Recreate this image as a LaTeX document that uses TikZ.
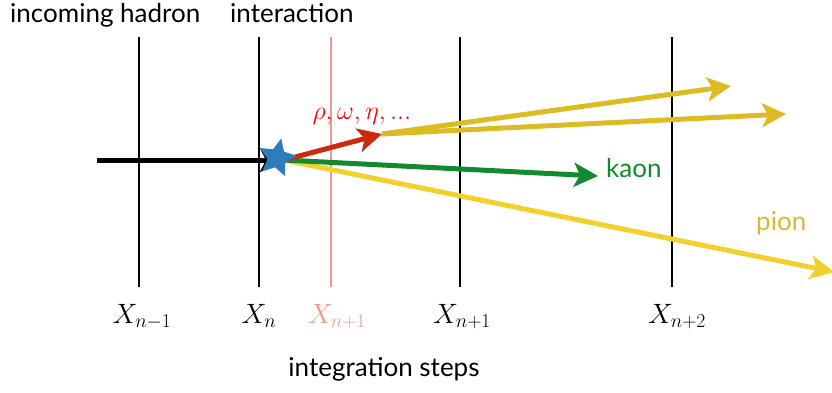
\documentclass[tikz,border=0pt]{standalone}
\usepackage{fix-cm}
\usepackage{fontspec}
\setsansfont{Lato}
\usetikzlibrary{shapes.geometric,arrows.meta}
\definecolor{ydark}{HTML}{DDBB22}
\definecolor{ylight}{HTML}{F2D12C}
\definecolor{gr}{HTML}{138A2E}
\definecolor{rd}{HTML}{CC2A10}
\definecolor{salmon}{HTML}{EC9A8F}
\definecolor{starblue}{HTML}{2F7DB8}
\definecolor{piontxt}{HTML}{D8B733}
\begin{document}
\begin{tikzpicture}[x=1pt,y=-1pt,
  wall/.style={line width=2.6pt,black},
  lbl/.style={font=\sffamily\fontsize{26}{27}\selectfont},
  xl/.style={font=\fontsize{28}{30}\selectfont,anchor=base},
  ln/.style={line width=5pt},
  tip/.style={-{Stealth[length=24pt,width=24pt,inset=6pt]}}]
\useasboundingbox (0,0) rectangle (832,392);
% walls
\foreach \x/\n in {139/a,259/b,460/d,672/e}{
  \coordinate (\n t) at (\x,37); \coordinate (\n b) at (\x,287);
  \draw[wall] (\n t) -- (\n b);}
\coordinate (ct) at (331,37); \coordinate (cb) at (331,287);
\draw[line width=2pt,salmon] (ct) -- (cb);
% labels
\node[lbl,anchor=base west,inner sep=0pt] (inc) at (10,22) {incoming hadron};
\node[lbl,anchor=base west,inner sep=0pt] (int) at (230,22) {interaction};
\node[lbl,anchor=base,inner sep=0pt] (steps) at (384,376) {integration steps};
\node[xl] (la) at (142,323) {$X_{n-1}$};
\node[xl] (lb) at (259,323) {$X_{n}$};
\node[xl,text=salmon] (lc) at (337,323) {$X_{n+1}$};
\node[xl] (ld) at (462,323) {$X_{n+1}$};
\node[xl] (le) at (677,323) {$X_{n+2}$};
% coordinates
\coordinate (in) at (97,160);
\coordinate (v) at (284,160);
\coordinate (dec) at (382,134);
\coordinate (p1) at (731,86);
\coordinate (p2) at (786,114);
\coordinate (k) at (598,176);
\coordinate (pi) at (834,272);
% tracks
\draw[ln,ylight,tip] (v) -- (pi);
\draw[ln,gr,tip] (v) -- (k);
\draw[ln,ydark,tip] (dec) -- (p1);
\draw[ln,ydark,tip] (dec) -- (p2);
\draw[ln,rd,tip] (v) -- (dec);
\draw[ln,black,tip] (in) -- (v);
\node[star,star points=5,star point ratio=2.1,fill=starblue,minimum size=40pt,inner sep=0pt,rotate=-12] (st) at (277,158) {};
\node[text=red,font=\fontsize{26}{28}\selectfont,anchor=base] (rho) at (362,119) {$\rho, \omega, \eta, ...$};
\node[lbl,text=gr,anchor=base west,inner sep=0pt] (kaon) at (606,177) {kaon};
\node[lbl,text=piontxt,anchor=base west,inner sep=0pt] (pion) at (756,230) {pion};
\end{tikzpicture}
\end{document}
